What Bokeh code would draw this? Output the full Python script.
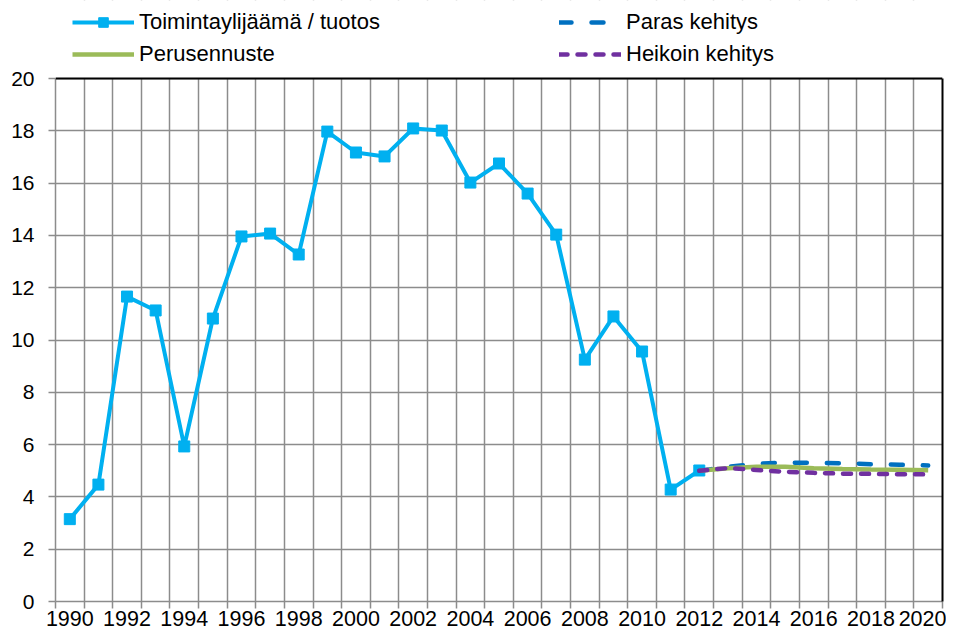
from bokeh.plotting import figure
from bokeh.models import (Range1d, FixedTicker, Legend, LegendItem, Span, BoxAnnotation,
                          LinearAxis)
from bokeh.embed import file_html
from bokeh.resources import INLINE

# ---- data ----
years = list(range(1990, 2013))
toiminta = [3.15, 4.47, 11.66, 11.13, 5.93, 10.82, 13.96, 14.07, 13.27, 17.97, 17.17,
            17.02, 18.09, 18.01, 16.02, 16.75, 15.60, 14.03, 9.25, 10.90, 9.56, 4.28, 5.01]
f_years = list(range(2012, 2021))
paras = [5.00, 5.15, 5.27, 5.31, 5.30, 5.29, 5.25, 5.23, 5.20]
perus = [5.00, 5.10, 5.15, 5.15, 5.10, 5.07, 5.05, 5.04, 5.02]
heikoin = [5.00, 5.10, 5.03, 4.96, 4.92, 4.89, 4.88, 4.87, 4.86]
x_labels = list(range(1990, 2021, 2))
y_ticks = list(range(0, 21, 2))
labels = ["Toimintaylijäämä / tuotos", "Perusennuste", "Paras kehitys", "Heikoin kehitys"]

FONT = "Liberation Sans"
GRID = "#8c8c8c"

FRAME_W = 887
FRAME_H = 601          # frame reaches the top of the figure (legend lives inside it)
DATA_H = 523           # pixel height of the 0..20 data area
y_top = y_ticks[-1] * FRAME_H / DATA_H

p = figure(frame_width=FRAME_W, frame_height=FRAME_H, output_backend="svg",
           toolbar_location=None,
           x_range=Range1d(years[0] - 0.5, f_years[-1] + 0.5),
           y_range=Range1d(y_ticks[0], y_top),
           min_border_left=55, min_border_right=4, min_border_top=0,
           min_border_bottom=28)
p.outline_line_color = None
p.background_fill_color = "white"

boundaries = [y - 0.5 for y in range(years[0], f_years[-1] + 2)]

# x axis
p.xaxis.ticker = FixedTicker(ticks=x_labels, minor_ticks=boundaries)
p.xaxis.major_tick_line_color = None
p.xaxis.major_tick_out = 7
p.xaxis.major_tick_in = 0
p.xaxis.minor_tick_out = 7
p.xaxis.minor_tick_in = 0
p.xaxis.minor_tick_line_color = GRID
p.xaxis.minor_tick_line_width = 1.5
p.xaxis.major_label_standoff = 2
p.xaxis.axis_line_color = GRID
p.xaxis.axis_line_width = 1.5
p.xaxis.major_label_text_font_size = "21.5px"

# y axis
p.yaxis.ticker = FixedTicker(ticks=y_ticks, minor_ticks=[])
p.yaxis.bounds = (y_ticks[0], y_ticks[-1])
p.yaxis.major_tick_out = 7
p.yaxis.major_tick_in = 0
p.yaxis.major_tick_line_color = GRID
p.yaxis.major_tick_line_width = 1.5
p.yaxis.major_label_standoff = 14
p.yaxis.axis_line_color = GRID
p.yaxis.axis_line_width = 1.5
p.yaxis.major_label_text_font_size = "21px"

for ax in (p.xaxis, p.yaxis):
    ax.major_label_text_font = FONT
    ax.major_label_text_color = "black"

# right border (black)
rax = LinearAxis(ticker=FixedTicker(ticks=[]), bounds=(y_ticks[0], y_ticks[-1]),
                 axis_line_color="black", axis_line_width=2,
                 major_tick_line_color=None, minor_tick_line_color=None,
                 major_label_text_font_size="0px", major_tick_out=0, major_tick_in=0,
                 minor_tick_out=0, minor_tick_in=0, major_label_standoff=0)
p.add_layout(rax, "right")

# grids
p.xgrid.ticker = FixedTicker(ticks=boundaries)
p.xgrid.grid_line_color = GRID
p.xgrid.grid_line_width = 1.5
p.ygrid.ticker = FixedTicker(ticks=y_ticks)
p.ygrid.grid_line_color = GRID
p.ygrid.grid_line_width = 1.5

# series
r_main = p.line(years, toiminta, line_color="#00B0F0", line_width=4)
r_mark = p.scatter(years, toiminta, marker="square", size=11, fill_color="#00B0F0",
                   line_color="#00B0F0")
r_paras = p.line(f_years, paras, line_color="#0070C0", line_width=4.5,
                 line_dash="12 20", line_cap="round")
r_perus = p.line(f_years, perus, line_color="#9BBB59", line_width=4.5)
r_heik = p.line(f_years, heikoin, line_color="#7030A0", line_width=4.5,
                line_dash="8 10", line_cap="round")

# blank area above the plot (legend area)
p.add_layout(BoxAnnotation(bottom=y_ticks[-1], fill_color="white", fill_alpha=1,
                           line_color=None))
# top border (black)
p.add_layout(Span(location=y_ticks[-1], dimension="width", line_color="black", line_width=2))


def make_legend(items, x):
    return Legend(items=items, location=(x, FRAME_H - 67), orientation="vertical",
                  glyph_width=62, glyph_height=24, spacing=6, label_standoff=5,
                  padding=0, margin=0, border_line_color=None, background_fill_alpha=0,
                  label_text_font=FONT, label_text_font_size="22px",
                  label_text_color="black", label_height=24)


leg1 = make_legend([LegendItem(label=labels[0], renderers=[r_main, r_mark]),
                    LegendItem(label=labels[1], renderers=[r_perus])], 72 - 55)
leg2 = make_legend([LegendItem(label=labels[2], renderers=[r_paras]),
                    LegendItem(label=labels[3], renderers=[r_heik])], 559 - 55)
p.add_layout(leg1, "center")
p.add_layout(leg2, "center")

open("out.html", "w").write(file_html(p, INLINE))
